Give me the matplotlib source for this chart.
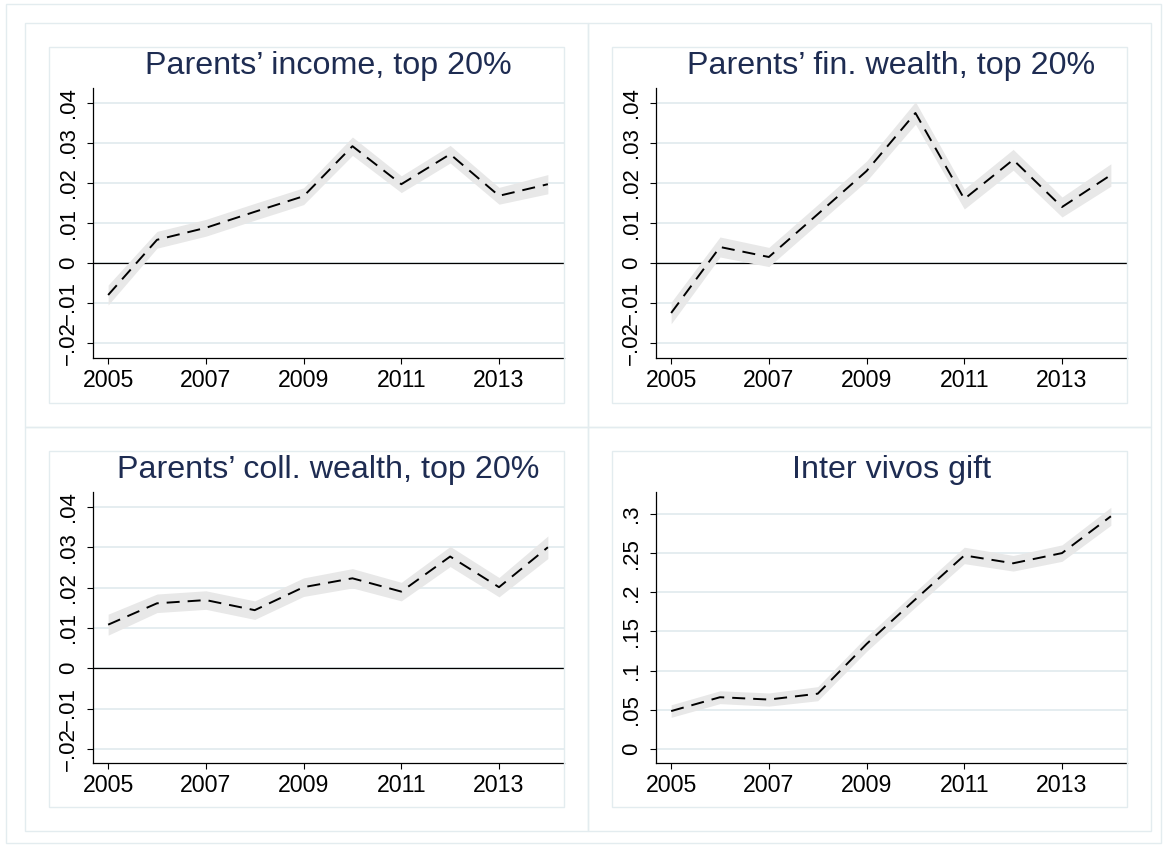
import numpy as np
import matplotlib
matplotlib.use("Agg")
from matplotlib import pyplot as plt
from matplotlib.patches import Rectangle

plt.rcParams['font.family'] = ['Liberation Sans', 'DejaVu Sans']

# ---- data ----
years = [2005, 2006, 2007, 2008, 2009, 2010, 2011, 2012, 2013, 2014]
xticks = [2005, 2007, 2009, 2011, 2013]

titles = ["Parents\u2019 income, top 20%", "Parents\u2019 fin. wealth, top 20%",
          "Parents\u2019 coll. wealth, top 20%", "Inter vivos gift"]

income = [-0.0080, 0.0058, 0.0088, 0.0128, 0.0167, 0.0292, 0.0197, 0.0272, 0.0168, 0.0197]
income_hw = [0.0025, 0.0021, 0.0021, 0.0021, 0.0021, 0.0023, 0.0021, 0.0022, 0.0021, 0.0024]

finw = [-0.0125, 0.0040, 0.0015, 0.0122, 0.0230, 0.0375, 0.0160, 0.0258, 0.0140, 0.0220]
finw_hw = [0.0027, 0.0025, 0.0024, 0.0024, 0.0025, 0.0028, 0.0025, 0.0026, 0.0025, 0.0028]

collw = [0.0108, 0.0161, 0.0169, 0.0144, 0.0201, 0.0223, 0.0190, 0.0277, 0.0201, 0.0300]
collw_hw = [0.0026, 0.0023, 0.0023, 0.0023, 0.0023, 0.0024, 0.0023, 0.0025, 0.0024, 0.0028]

gift = [0.0483, 0.0660, 0.0630, 0.0705, 0.1340, 0.1910, 0.2470, 0.2370, 0.2500, 0.2970]
gift_hw = [0.0080, 0.0082, 0.0084, 0.0090, 0.0095, 0.0100, 0.0105, 0.0100, 0.0105, 0.0115]

small_ticks = [-0.02, -0.01, 0, 0.01, 0.02, 0.03, 0.04]
small_labels = ["\u2212.02", "\u2212.01", "0", ".01", ".02", ".03", ".04"]
gift_ticks = [0, 0.05, 0.1, 0.15, 0.2, 0.25, 0.3]
gift_labels = ["0", ".05", ".1", ".15", ".2", ".25", ".3"]

W, H = 1164, 846
NAVY = "#1e2c52"
LIGHT = "#e3ecef"
BAND = "#e8e8e8"

fig = plt.figure(figsize=(W / 100, H / 100), dpi=100)
fig.patch.set_facecolor("white")


def box(x0, y0, x1, y1, color=LIGHT, lw=1.0):
    # rectangle in pixel coords, origin top-left
    r = Rectangle((x0 / W, 1 - y1 / H), (x1 - x0) / W, (y1 - y0) / H,
                  transform=fig.transFigure, fill=False, edgecolor=color, linewidth=lw)
    fig.patches.append(r)


# figure border + panel borders
box(6, 4, 1161, 843)
offsets = [(0, 0), (563, 0), (0, 404), (563, 404)]
for (px, py) in offsets:
    box(25 + px, 23 + py, 588 + px, 427 + py)
    box(49 + px, 47 + py, 564 + px, 403 + py)

panels = [
    (income, income_hw, small_ticks, small_labels, (-0.02375, 0.04375), True),
    (finw, finw_hw, small_ticks, small_labels, (-0.02375, 0.04375), True),
    (collw, collw_hw, small_ticks, small_labels, (-0.0235, 0.0437), True),
    (gift, gift_hw, gift_ticks, gift_labels, (-0.018, 0.328), False),
]

for i, (vals, hw, yt, yl, ylim, zero) in enumerate(panels):
    ox, oy = offsets[i]
    x0, x1 = 93 + ox, 564 + ox
    y0, y1 = 88 + oy, 358 + oy + (1 if oy else 0)
    ax = fig.add_axes([x0 / W, 1 - y1 / H, (x1 - x0) / W, (y1 - y0) / H])

    v = np.array(vals)
    h = np.array(hw)
    ax.fill_between(years, v - h, v + h, color=BAND, linewidth=0, zorder=2)
    ax.plot(years, v, color="black", linewidth=1.4, dashes=(6.7, 4.1), zorder=3)
    if zero:
        ax.axhline(0, color="black", linewidth=0.9, zorder=1.5)

    ax.set_xlim(2004.69, 2014.33)
    ax.set_ylim(*ylim)
    ax.set_xticks(xticks)
    ax.set_xticklabels([str(t) for t in xticks])
    ax.set_yticks(yt)
    ax.set_yticklabels(yl)
    plt.setp(ax.get_yticklabels(), rotation=90, va="center")

    ax.yaxis.grid(True, color=LIGHT, linewidth=1.3, zorder=0)
    ax.set_axisbelow(True)
    for s in ["top", "right"]:
        ax.spines[s].set_visible(False)
    for s in ["left", "bottom"]:
        ax.spines[s].set_linewidth(0.9)
        ax.spines[s].set_color("black")
    ax.tick_params(axis="both", direction="out", length=4.5, width=0.8,
                   colors="black")
    ax.tick_params(axis="x", pad=3.3, labelsize=16.7)
    ax.tick_params(axis="y", pad=5.5, labelsize=16.0)

    fig.text((x0 + x1) / 2 / W, 1 - (74 + oy) / H, titles[i], ha="center",
             va="baseline", fontsize=23.2, color=NAVY)

fig.savefig("out.png", dpi=100)
